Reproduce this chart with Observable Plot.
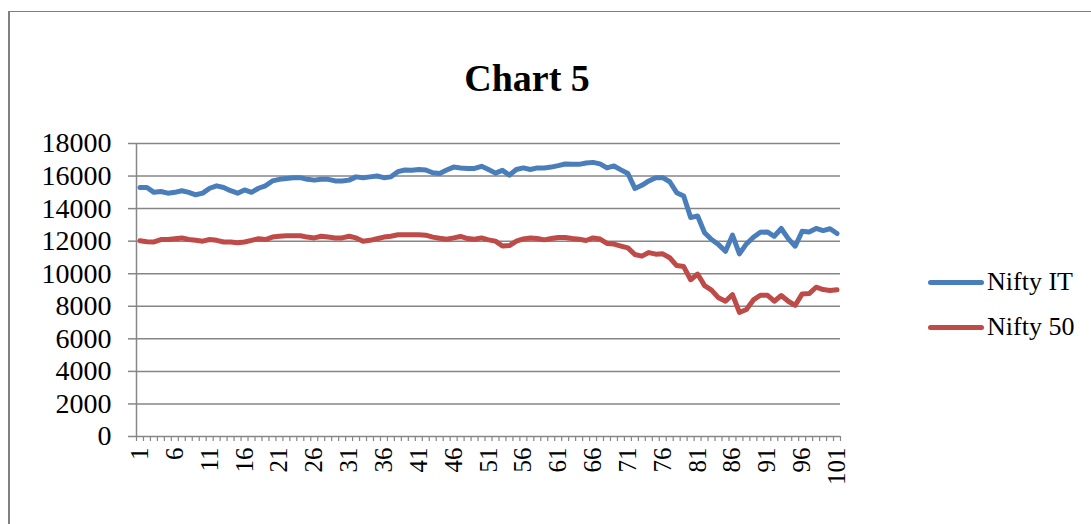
<!DOCTYPE html>
<html>
<head>
<meta charset="utf-8">
<script src="https://cdn.jsdelivr.net/npm/d3@7"></script>
<script src="https://cdn.jsdelivr.net/npm/@observablehq/plot@0.6"></script>
<style>
  html, body { margin: 0; padding: 0; background: #fff; }
  #wrap { position: relative; width: 1091px; height: 524px; overflow: hidden; font-family: "Liberation Serif", serif; }
  #frame { position: absolute; left: 8px; top: 11px; width: 1200px; height: 600px; border-left: 2px solid #808080; border-top: 1px solid #808080; }
  #chart { position: absolute; left: 0; top: 0; }
  #title { position: absolute; left: 0; width: 1054px; top: 56px; text-align: center; font-weight: bold; font-size: 38px; line-height: 44px; color: #000; }
  .leg { position: absolute; left: 928px; height: 30px; display: flex; align-items: center; font-size: 26px; color: #000; }
  .leg .sw { width: 56px; height: 5px; border-radius: 3px; margin-right: 3px; }
</style>
</head>
<body>
<div id="wrap">
  <div id="frame"></div>
  <div id="chart"></div>
  <div id="title">Chart 5</div>
  <div id="legend"></div>
</div>
<script>
const days = d3.range(1, 102);
const seriesNames = ["Nifty IT", "Nifty 50"];
const seriesColors = ["#4A7EBB", "#BE4B48"];
const niftyIT = [
  15300, 15300, 15000, 15050, 14950, 15000, 15100, 15000, 14850, 14950,
  15250, 15400, 15300, 15100, 14950, 15150, 15000, 15250, 15400, 15700,
  15800, 15850, 15900, 15900, 15800, 15750, 15800, 15800, 15700, 15700,
  15750, 15950, 15900, 15950, 16000, 15900, 15950, 16270, 16370, 16350,
  16400, 16370, 16200, 16160, 16370, 16550, 16500, 16470, 16470, 16600,
  16400, 16180, 16350, 16060, 16400, 16500, 16400, 16500, 16500, 16550,
  16640, 16740, 16720, 16720, 16800, 16840, 16750, 16500, 16620, 16380,
  16160, 15240, 15430, 15700, 15900, 15900, 15650, 14980, 14780, 13450,
  13550, 12520, 12100, 11790, 11380, 12370, 11220, 11830, 12240, 12550,
  12570, 12300, 12780, 12160, 11690, 12610, 12570, 12780, 12650, 12760,
  12470
];
const nifty50 = [
  12020, 11970, 11950, 12100, 12100, 12150, 12200, 12100, 12050, 12000,
  12100, 12050, 11950, 11950, 11900, 11950, 12050, 12150, 12100, 12250,
  12300, 12330, 12330, 12330, 12250, 12200, 12300, 12250, 12200, 12200,
  12300, 12200, 12000, 12050, 12150, 12250, 12300, 12390, 12400, 12400,
  12400, 12370, 12250, 12180, 12120, 12200, 12290, 12160, 12120, 12200,
  12080, 12000, 11700, 11730, 12000, 12140, 12200, 12160, 12080, 12160,
  12230, 12230, 12160, 12120, 12040, 12200, 12130, 11860, 11820, 11700,
  11590, 11180, 11080, 11300, 11200, 11220, 10980, 10500, 10440, 9630,
  9980, 9270, 8990, 8520, 8310, 8720, 7620, 7800, 8390, 8680,
  8680, 8310, 8660, 8310, 8060, 8760, 8780, 9170, 9030, 8970,
  9010
];
const yTicks = [0, 2000, 4000, 6000, 8000, 10000, 12000, 14000, 16000, 18000];
const xLabelTicks = days.filter((d, i) => i % 5 === 0);
const xBoundaries = [0.5, ...days.map(d => d + 0.5)];

const gridColor = "#868686";
const rows = [
  ...days.map((d, i) => ({day: d, value: niftyIT[i], series: seriesNames[0]})),
  ...days.map((d, i) => ({day: d, value: nifty50[i], series: seriesNames[1]}))
];

const chart = Plot.plot({
  width: 1091,
  height: 524,
  marginLeft: 136,
  marginRight: 251,
  marginTop: 143,
  marginBottom: 88,
  style: {fontFamily: "Liberation Serif, serif", color: "#000", background: "transparent", overflow: "visible"},
  x: {type: "linear", domain: [0.5, 101.5]},
  y: {domain: [0, 18000]},
  color: {domain: seriesNames, range: seriesColors},
  marks: [
    Plot.gridY(yTicks, {stroke: gridColor, strokeOpacity: 1, strokeWidth: 1.5}),
    Plot.ruleX([0.5], {stroke: gridColor, strokeWidth: 1.5}),
    Plot.axisY({ticks: yTicks, tickSize: 8, tickPadding: 17, fontSize: 28, stroke: gridColor, strokeWidth: 1.5, fill: "#000", tickFormat: d => String(d), label: null}),
    Plot.axisX({ticks: xBoundaries, tickSize: 5, tickFormat: () => "", stroke: gridColor, strokeWidth: 1.2, label: null}),
    Plot.axisX({ticks: xLabelTicks, tickSize: 0, tickPadding: 11, tickRotate: -90, fontSize: 25, fill: "#000", tickFormat: d => String(d), label: null}),
    Plot.lineY(rows, {x: "day", y: "value", z: "series", stroke: "series", strokeWidth: 5, strokeLinejoin: "round", strokeLinecap: "round"})
  ]
});
document.getElementById("chart").appendChild(chart);

const legend = document.getElementById("legend");
const legendTops = [267, 312];
seriesNames.forEach((name, i) => {
  const item = document.createElement("div");
  item.className = "leg";
  item.style.top = legendTops[i] + "px";
  const sw = document.createElement("span");
  sw.className = "sw";
  sw.style.background = seriesColors[i];
  const tx = document.createElement("span");
  tx.textContent = name;
  item.appendChild(sw);
  item.appendChild(tx);
  legend.appendChild(item);
});
</script>
</body>
</html>
